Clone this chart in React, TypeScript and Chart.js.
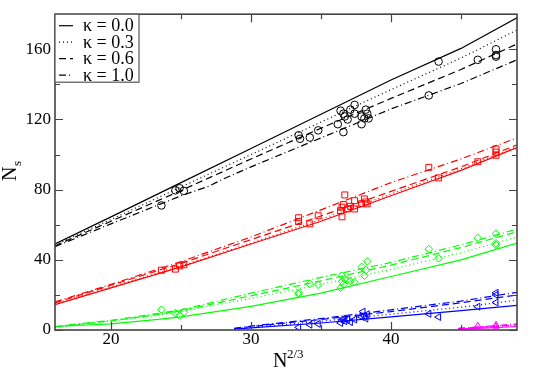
import React, { useEffect, useRef } from "react";
import { Chart, registerables } from "chart.js";
Chart.register(...registerables);

// ---------- data ----------
const kappaLabels = ["κ = 0.0", "κ = 0.3", "κ = 0.6", "κ = 1.0"];

const xTickValues = [20, 30, 40];
const xMinorTicks = [25, 35, 45];
const yTickValues = [0, 40, 80, 120, 160];
const yMinorTicks = [20, 60, 100, 140];

// curve x-grids
const curveX = [16, 20, 25, 30, 35, 40, 45, 49];
const curveXBlack10 = [16, 20, 25, 27, 28, 30, 35, 40, 45, 49];
const curveXGreen = [16, 20, 23, 25, 30, 35, 40, 45, 49];
const curveXBlue = [28.8, 30, 35, 40, 45, 49];
const curveXMagenta = [44.8, 47, 49];

// black curves
const black00 = [49, 64.5, 84, 103.5, 123, 142.5, 160.5, 178];
const black03 = [48.5, 63, 81.5, 100, 118.5, 137, 155, 171];
const black06 = [48, 62, 79.5, 97.5, 115, 132, 148.5, 163];
const black10 = [47.5, 60.5, 76.5, 82, 86, 93, 109.5, 126, 140.5, 154];
// red curves
const red00 = [14.5, 24, 36, 49, 62, 76.5, 91, 104];
const red03 = [15, 24.5, 36.5, 49.5, 63, 77.5, 92, 104.5];
const red06 = [15.5, 25.5, 38, 51.5, 65, 79, 93, 105.5];
const red10 = [16, 26, 39, 53, 68.5, 84, 97.5, 109.5];
// green curves
const green00 = [2, 3.5, 5.8, 7.5, 13.5, 21, 30.5, 40, 49.5];
const green03 = [1.8, 5, 8, 10.5, 18, 26, 34.5, 44, 53];
const green06 = [1.8, 5.2, 8.5, 11, 19.5, 28, 37, 47, 56];
const green10 = [2, 5.5, 9, 11.5, 21, 30, 38.5, 48.5, 57.5];
// blue curves
const blue00 = [0.5, 1.2, 4, 7.5, 11, 14];
const blue03 = [0.7, 1.5, 5, 9, 13, 17];
const blue06 = [0.8, 2, 6, 10.5, 15.5, 20];
const blue10 = [1, 2.2, 6.5, 11.5, 16.5, 21.5];
// magenta curves
const magenta00 = [0.5, 1.2, 2];
const magenta03 = [0.7, 1.6, 2.5];
const magenta06 = [0.8, 1.9, 3];
const magenta10 = [1, 2.2, 3.5];

// simulation points
const blackPtsX = [23.6, 24.6, 24.9, 25.2, 33.4, 33.5, 34.2, 34.8, 36.2, 36.4, 36.6, 36.6, 36.7, 36.9, 37.1, 37.4, 37.4, 37.9, 37.9, 38.2, 38.3, 38.4, 38.1, 42.7, 43.4, 46.2, 47.5, 47.5, 47.5];
const blackPtsY = [71, 79.6, 80.8, 79.3, 111, 109, 109.7, 113.8, 117.3, 125, 123.3, 112.8, 121.7, 120, 125.6, 128.3, 123.3, 121.7, 117.3, 125.6, 123.3, 120.6, 120.6, 133.7, 153, 154, 160, 156.7, 155.8];

const redPtsX = [23.6, 24.6, 24.9, 25.2, 33.4, 33.4, 34.2, 34.8, 36.5, 36.5, 36.4, 36.6, 36.7, 36.9, 37.1, 37.4, 37.4, 37.9, 38.1, 38.3, 38.2, 42.7, 43.4, 46.2, 47.5, 47.5, 47.5];
const redPtsY = [34.1, 34.7, 36.5, 37.2, 64, 61.8, 60.5, 65.1, 64.5, 70, 68, 71.5, 77, 69, 70.5, 73.7, 69, 72, 74.7, 71.9, 73, 92.7, 86.7, 95.9, 103.2, 101.4, 99.6];

const greenPtsX = [23.6, 24.6, 24.9, 25.2, 33.4, 33.4, 34.2, 34.8, 36.5, 36.5, 36.4, 36.7, 36.9, 37.1, 37.4, 36.6, 37.9, 38.2, 38.3, 38.1, 42.7, 43.4, 46.2, 47.5, 47.5, 47.5];
const greenPtsY = [11.6, 9.6, 8.3, 10.1, 21.2, 20.5, 26.3, 25.8, 31, 27.7, 24, 29, 28.5, 28, 27.3, 26, 36, 34.1, 39.1, 31, 46.1, 40.9, 52.5, 54.9, 49.4, 48.5];

const bluePtsX = [33.4, 34.2, 34.8, 36.4, 36.5, 36.6, 36.7, 36.9, 37.1, 37.4, 37.9, 38.0, 38.1, 38.3, 38.2, 42.7, 43.4, 46.2, 47.5, 47.5, 47.5];
const bluePtsY = [1.5, 3, 3.5, 4, 5.5, 6.5, 5, 6, 4.5, 6, 7.5, 10.5, 8, 9, 6.5, 9.2, 7.4, 13.3, 21.2, 20, 15.7];

const magentaPtsX = [46.2, 47.5, 47.5];
const magentaPtsY = [2.5, 3, 2];

// ---------- styles ----------
const dashes = [[], [1, 3], [7, 4], [7, 3, 1, 3]];
const FONT = "'Liberation Serif', 'Times New Roman', serif";

const zip = (xs: number[], ys: number[]) => xs.map((x, i) => ({ x, y: ys[i] }));

function curveSet(color: string, xs: number[], ys: number[], k: number) {
  return {
    type: "line" as const,
    data: zip(xs, ys),
    borderColor: color,
    borderWidth: 1.2,
    borderDash: dashes[k],
    pointRadius: 0,
    showLine: true,
    fill: false,
    tension: 0,
  };
}

function curveSets(color: string, xs: number[], series: number[][]) {
  return series.map((ys, k) => curveSet(color, xs, ys, k));
}

function pointSet(color: string, xs: number[], ys: number[], style: string, radius: number, rotation = 0) {
  return {
    type: "scatter" as const,
    data: zip(xs, ys),
    borderColor: color,
    backgroundColor: "transparent",
    pointBackgroundColor: "transparent",
    pointBorderColor: color,
    pointBorderWidth: 1,
    pointStyle: style,
    pointRadius: radius,
    pointRotation: rotation,
    showLine: false,
  };
}

const framePlugin = {
  id: "framePlugin",
  afterDraw(chart: any) {
    const { ctx, chartArea: a, scales } = chart;
    const sx = scales.x;
    const sy = scales.y;
    ctx.save();
    // ticks
    ctx.strokeStyle = "#444";
    ctx.lineWidth = 1.2;
    const vt = (v: number, len: number) => {
      const p = Math.round(sx.getPixelForValue(v)) + 0.5;
      ctx.beginPath();
      ctx.moveTo(p, a.bottom); ctx.lineTo(p, a.bottom - len);
      ctx.moveTo(p, a.top); ctx.lineTo(p, a.top + len);
      ctx.stroke();
    };
    const ht = (v: number, len: number) => {
      const p = Math.round(sy.getPixelForValue(v)) + 0.5;
      ctx.beginPath();
      ctx.moveTo(a.left, p); ctx.lineTo(a.left + len, p);
      ctx.moveTo(a.right, p); ctx.lineTo(a.right - len, p);
      ctx.stroke();
    };
    xTickValues.forEach((v) => vt(v, 8));
    xMinorTicks.forEach((v) => vt(v, 5));
    yTickValues.forEach((v) => ht(v, 8));
    yMinorTicks.forEach((v) => ht(v, 5));
    // frame
    ctx.lineWidth = 1.6;
    ctx.strokeRect(a.left, a.top, a.right - a.left, a.bottom - a.top);

    // x tick labels
    ctx.fillStyle = "#000";
    ctx.font = `17px ${FONT}`;
    ctx.textAlign = "center";
    ctx.textBaseline = "middle";
    xTickValues.forEach((v) => {
      ctx.fillText(String(v), sx.getPixelForValue(v), a.bottom + 10);
    });

    // legend
    const lx = a.left, ly = a.top, lw = 84, lh = 68;
    ctx.fillStyle = "#fff";
    ctx.fillRect(lx, ly, lw, lh);
    ctx.lineWidth = 1.2;
    ctx.strokeStyle = "#555";
    ctx.strokeRect(lx, ly, lw, lh);
    ctx.font = `18px ${FONT}`;
    ctx.textBaseline = "middle";
    ctx.textAlign = "left";
    kappaLabels.forEach((lab, i) => {
      const yy = ly + 11.5 + i * 16.5;
      ctx.strokeStyle = "#000";
      ctx.lineWidth = 1.2;
      ctx.setLineDash(dashes[i]);
      ctx.beginPath();
      ctx.moveTo(lx + 4, yy); ctx.lineTo(lx + 18, yy);
      ctx.stroke();
      ctx.setLineDash([]);
      ctx.fillStyle = "#000";
      ctx.fillText(lab, lx + 28, yy + 1);
    });

    // axis titles
    ctx.fillStyle = "#000";
    ctx.textBaseline = "alphabetic";
    ctx.font = `20px ${FONT}`;
    const midX = (a.left + a.right) / 2;
    ctx.fillText("N", midX - 13, 367);
    ctx.font = `13px ${FONT}`;
    ctx.fillText("2/3", midX + 1, 358);

    ctx.save();
    ctx.translate(16, (a.top + a.bottom) / 2);
    ctx.rotate(-Math.PI / 2);
    ctx.font = `20px ${FONT}`;
    ctx.fillText("N", -9, 0);
    ctx.font = `13px ${FONT}`;
    ctx.fillText("s", 6, 5);
    ctx.restore();

    ctx.restore();
  },
};

export default function App() {
  const ref = useRef<HTMLCanvasElement | null>(null);
  useEffect(() => {
    if (!ref.current) return;
    const datasets: any[] = [
      ...curveSets("#000000", curveX, [black00, black03, black06]),
      curveSet("#000000", curveXBlack10, black10, 3),
      ...curveSets("#ff0000", curveX, [red00, red03, red06, red10]),
      ...curveSets("#00ff00", curveXGreen, [green00, green03, green06, green10]),
      ...curveSets("#0000ff", curveXBlue, [blue00, blue03, blue06, blue10]),
      ...curveSets("#ff00ff", curveXMagenta, [magenta00, magenta03, magenta06, magenta10]),
      pointSet("#000000", blackPtsX, blackPtsY, "circle", 3.8),
      pointSet("#ff0000", redPtsX, redPtsY, "rect", 4.2),
      pointSet("#00ff00", greenPtsX, greenPtsY, "rectRot", 3.8),
      pointSet("#0000ff", bluePtsX, bluePtsY, "triangle", 4, -90),
      pointSet("#ff00ff", magentaPtsX, magentaPtsY, "triangle", 3.5),
    ];
    const chart = new Chart(ref.current, {
      type: "scatter",
      data: { datasets },
      plugins: [framePlugin],
      options: {
        animation: false,
        responsive: false,
        devicePixelRatio: 1,
        layout: { padding: { top: 3, right: 28, left: 0, bottom: 0 } },
        plugins: { legend: { display: false }, tooltip: { enabled: false } },
        scales: {
          x: {
            type: "linear",
            min: 16,
            max: 49,
            grid: { display: false, drawTicks: false, tickLength: 0 },
            border: { display: false },
            afterFit: (s: any) => { s.height = 40; },
            afterBuildTicks: (s: any) => { s.ticks = xTickValues.map((v) => ({ value: v })); },
            ticks: { display: false },
          },
          y: {
            type: "linear",
            min: 0,
            max: 180,
            grid: { display: false, drawTicks: false, tickLength: 0 },
            border: { display: false },
            afterFit: (s: any) => { s.width = 55; },
            afterBuildTicks: (s: any) => { s.ticks = yTickValues.map((v) => ({ value: v })); },
            ticks: { color: "#000", font: { family: FONT, size: 17 }, padding: 4 },
          },
        },
      },
    });
    return () => chart.destroy();
  }, []);
  return (
    <div style={{ position: "absolute", left: 0, top: 0, width: 545, height: 370, background: "#fff" }}>
      <canvas ref={ref} width={545} height={370} style={{ width: 545, height: 370 }} />
    </div>
  );
}
